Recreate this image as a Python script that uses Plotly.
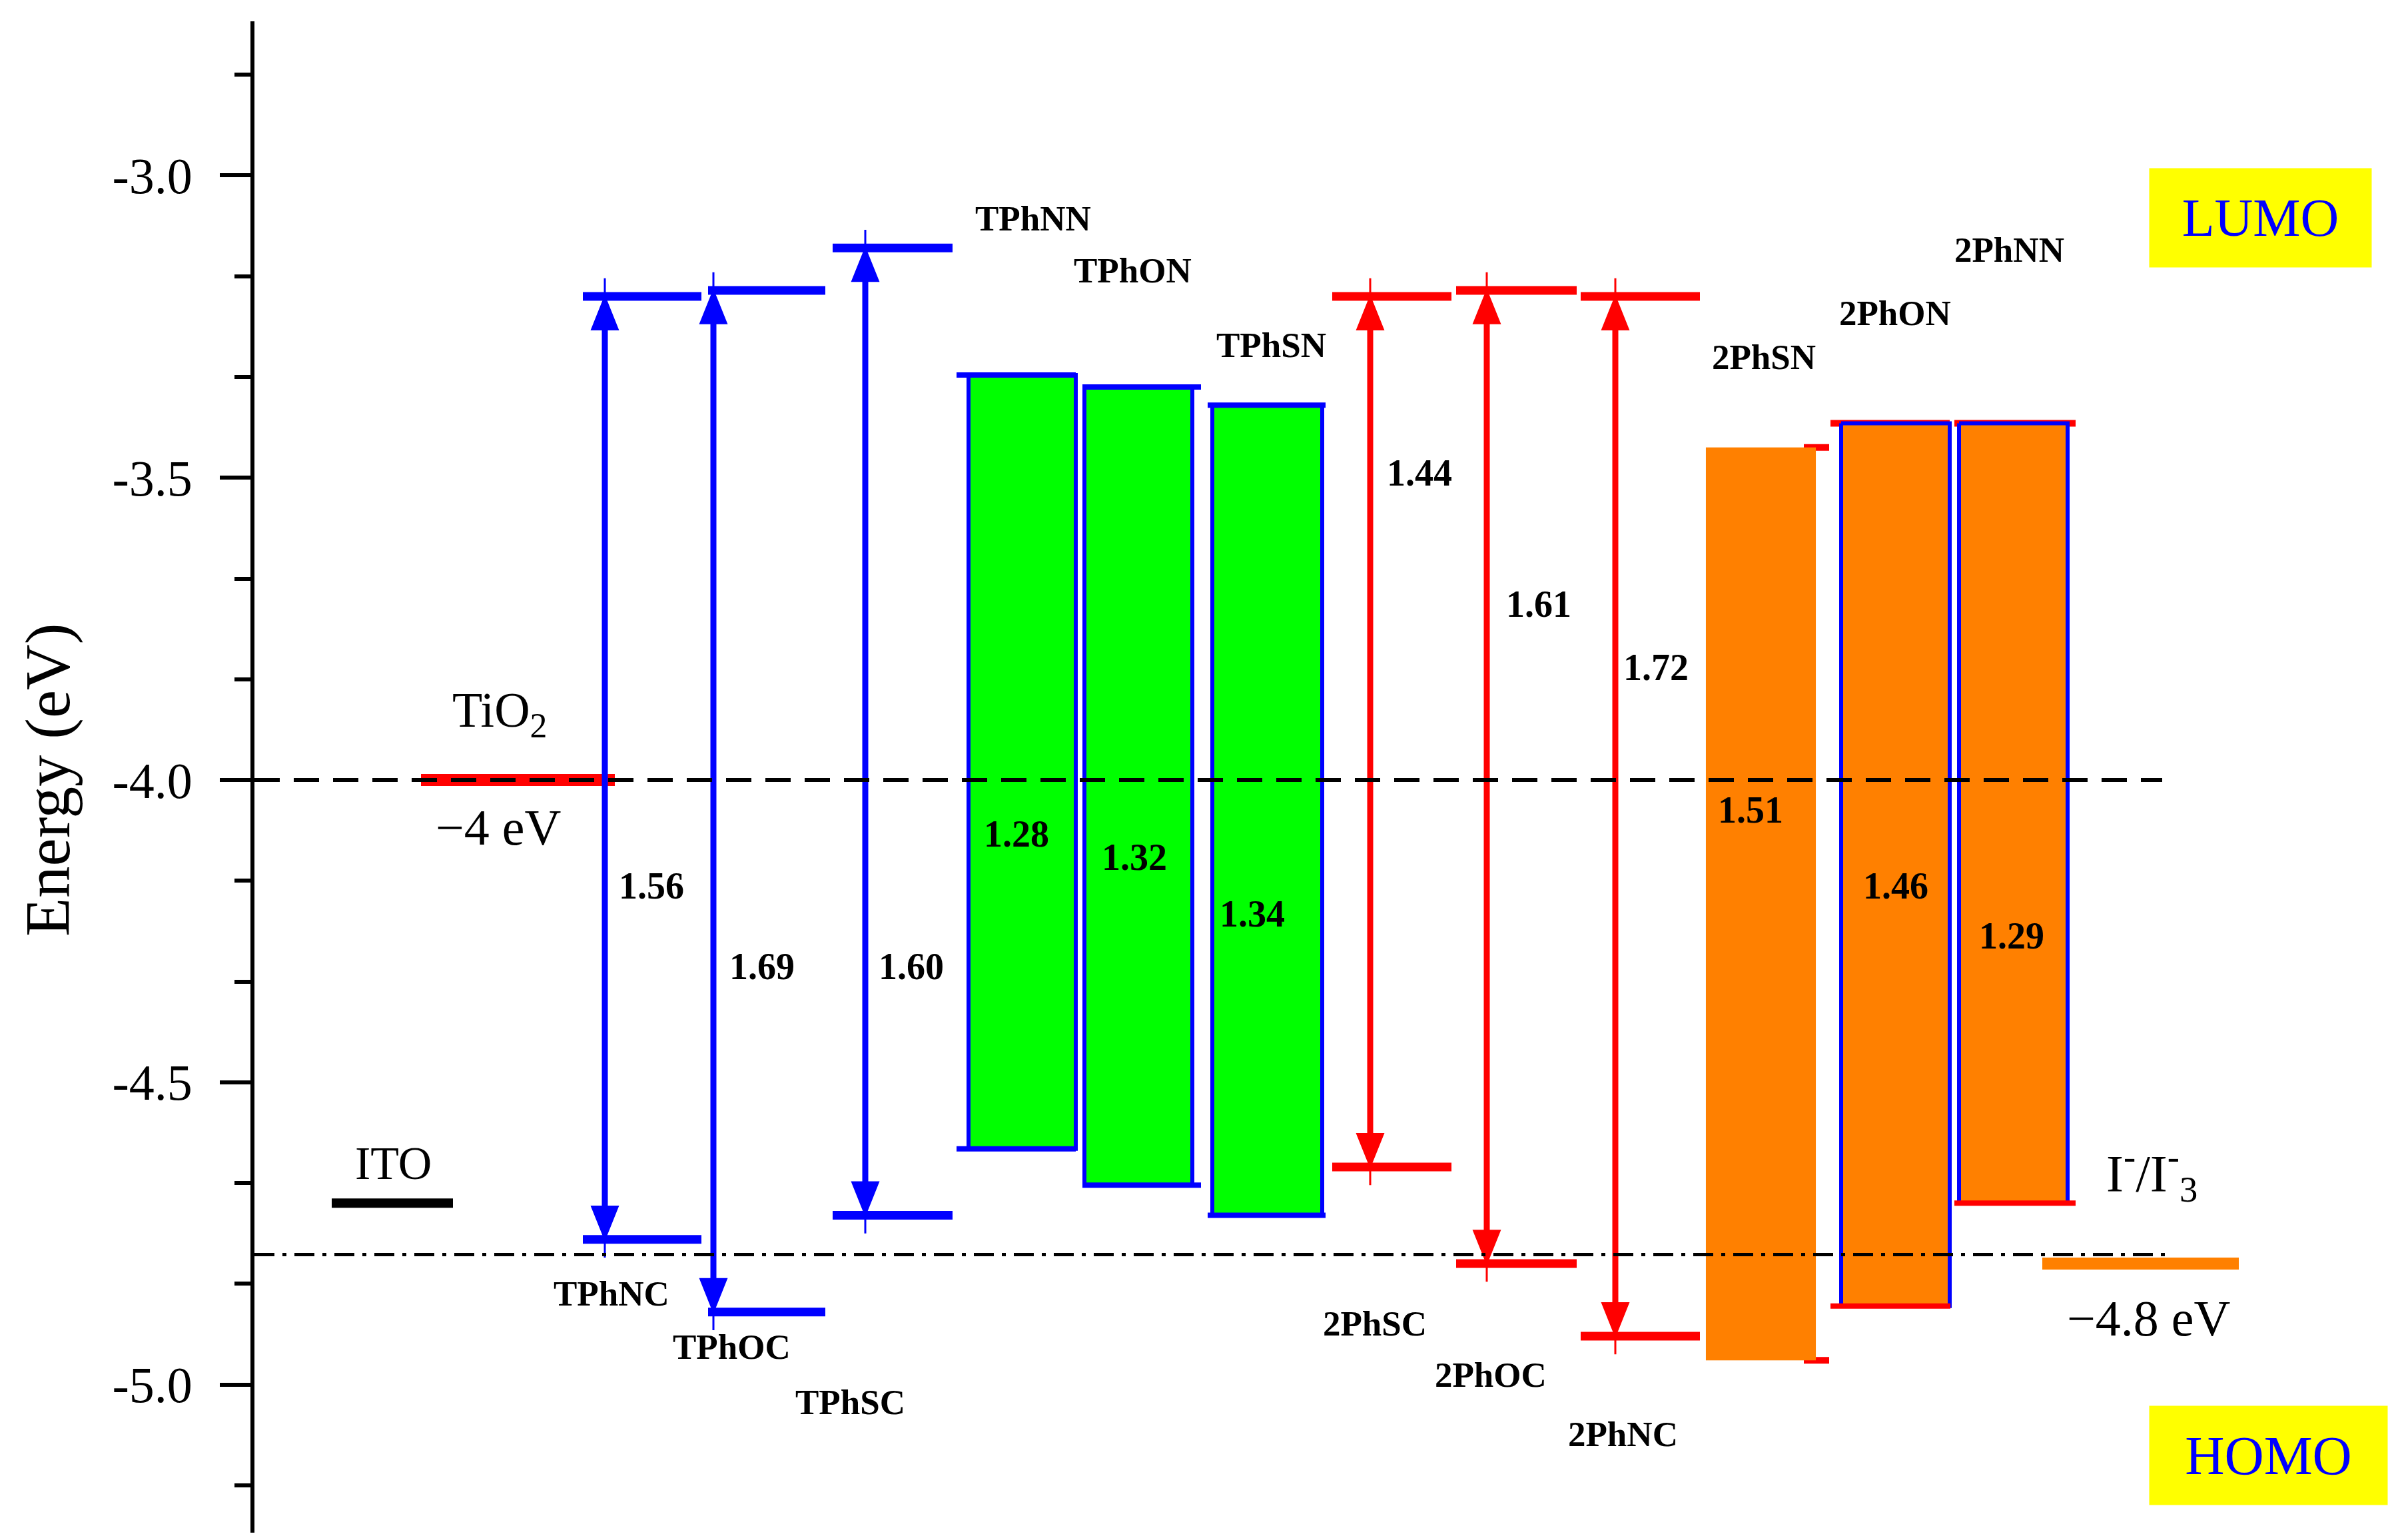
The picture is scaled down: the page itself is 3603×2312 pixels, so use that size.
import plotly.graph_objects as go

# ---------------- data (energies in eV) ----------------
blue_names = ["TPhNC", "TPhOC", "TPhSC"]
blue_lumo = [-3.20, -3.19, -3.12]
blue_homo = [-4.76, -4.88, -4.72]
blue_gap = ["1.56", "1.69", "1.60"]

green_names = ["TPhNN", "TPhON", "TPhSN"]
green_lumo = [-3.33, -3.35, -3.38]
green_homo = [-4.61, -4.67, -4.72]
green_gap = ["1.28", "1.32", "1.34"]

red_names = ["2PhSC", "2PhOC", "2PhNC"]
red_lumo = [-3.20, -3.19, -3.20]
red_homo = [-4.64, -4.80, -4.92]
red_gap = ["1.44", "1.61", "1.72"]

orange_names = ["2PhSN", "2PhON", "2PhNN"]
orange_lumo = [-3.45, -3.41, -3.41]
orange_homo = [-4.96, -4.87, -4.70]
orange_gap = ["1.51", "1.46", "1.29"]

tio2_level = -4.0
ito_level = -4.7
redox_level = -4.8

y_tick_vals = [-3.0, -3.5, -4.0, -4.5, -5.0]
y_tick_text = ["-3.0", "-3.5", "-4.0", "-4.5", "-5.0"]

# ---------------- layout (x in horizontal axis units) ----------------
FONT = "Liberation Serif"
BLUE = "#0000FF"
RED = "#FF0000"
GREEN = "#00FF00"
ORANGE = "#FF8000"

HEAD_LEN = 0.055   # arrow head length (eV)
HEAD_HALF = 20     # arrow head half width (x units)
TIP_EXT = 0.03     # thin tip extension beyond levels (eV)

blue_x0 = [867, 1055, 1242]
blue_x1 = [1045, 1231, 1422]
blue_ax = [900, 1063, 1291]
blue_gap_pos = [(970, -4.175), (1136, -4.309), (1360, -4.309)]
blue_name_pos = [(910, -4.849), (1090, -4.938), (1268, -5.029)]

green_x0 = [1446, 1620, 1812]
green_x1 = [1607, 1782, 1977]
green_lx0 = [1428, 1617, 1805]
green_lx1 = [1607, 1795, 1982]
green_gap_pos = [(1518, -4.089), (1695, -4.128), (1872, -4.221)]
green_name_pos = [(1543, -3.071), (1692, -3.157), (1900, -3.281)]

red_x0 = [1992, 2178, 2365]
red_x1 = [2171, 2359, 2544]
red_ax = [2049, 2224, 2417]
red_gap_pos = [(2123, -3.492), (2302, -3.709), (2478, -3.814)]
red_name_pos = [(2056, -4.899), (2230, -4.984), (2428, -5.082)]

orange_x0 = [2553, 2756, 2933]
orange_x1 = [2718, 2919, 3096]
orange_border = [0, 6, 6]
orange_red_top = [(2700, 2738), (2740, 2919), (2926, 3108)]
orange_red_bot = [(2700, 2738), (2740, 2920), (2926, 3108)]
orange_gap_pos = [(2620, -4.050), (2838, -4.175), (3012, -4.258)]
orange_name_pos = [(2640, -3.300), (2837, -3.228), (3008, -3.123)]

fig = go.Figure()
shapes = []
annotations = []


def hline(x0, x1, y, color, width):
    fig.add_trace(go.Scatter(x=[x0, x1], y=[y, y], mode="lines",
                             line=dict(color=color, width=width),
                             hoverinfo="skip", showlegend=False))


def box(x0, x1, top, bot, fill, border_color, border_w):
    fig.add_trace(go.Scatter(x=[x0, x1, x1, x0, x0], y=[top, top, bot, bot, top],
                             mode="lines", fill="toself", fillcolor=fill,
                             line=dict(color=border_color, width=border_w),
                             hoverinfo="skip", showlegend=False))


def label(x, y, text, size, color="black", bold=False):
    if bold:
        text = "<b>" + text + "</b>"
    annotations.append(dict(x=x, y=y, xref="x", yref="y", text=text, showarrow=False,
                            font=dict(family=FONT, size=size, color=color),
                            xanchor="center", yanchor="middle"))


def arrow(x, top, bot, color):
    # thin tip line extending slightly past both levels
    shapes.append(dict(type="line", xref="x", yref="y", x0=x, x1=x,
                       y0=bot - TIP_EXT, y1=top + TIP_EXT,
                       line=dict(color=color, width=3), layer="above"))
    # shaft
    shapes.append(dict(type="line", xref="x", yref="y", x0=x, x1=x,
                       y0=bot + HEAD_LEN * 0.9, y1=top - HEAD_LEN * 0.9,
                       line=dict(color=color, width=9), layer="above"))
    # heads
    up = f"M {x - HEAD_HALF},{top - HEAD_LEN} L {x + HEAD_HALF},{top - HEAD_LEN} L {x},{top} Z"
    dn = f"M {x - HEAD_HALF},{bot + HEAD_LEN} L {x + HEAD_HALF},{bot + HEAD_LEN} L {x},{bot} Z"
    for p in (up, dn):
        shapes.append(dict(type="path", xref="x", yref="y", path=p,
                           fillcolor=color, line=dict(color=color, width=2), layer="above"))


# TiO2 and ITO
hline(624, 915, tio2_level, RED, 18)
hline(490, 672, ito_level, "black", 14)
label(742, -3.89, "TiO<sub>2</sub>", 74)
label(740, -4.078, "\u22124 eV", 76)
label(582, -4.634, "ITO", 70)

# blue levels with arrows
for i in range(3):
    hline(blue_x0[i], blue_x1[i], blue_lumo[i], BLUE, 13)
    hline(blue_x0[i], blue_x1[i], blue_homo[i], BLUE, 13)
    arrow(blue_ax[i], blue_lumo[i], blue_homo[i], BLUE)
    label(*blue_gap_pos[i], blue_gap[i], 56, bold=True)
    label(*blue_name_pos[i], blue_names[i], 53, bold=True)

# green boxes
for i in range(3):
    box(green_x0[i], green_x1[i], green_lumo[i], green_homo[i], GREEN, BLUE, 6)
    hline(green_lx0[i], green_lx1[i], green_lumo[i], BLUE, 8)
    hline(green_lx0[i], green_lx1[i], green_homo[i], BLUE, 8)
    label(*green_gap_pos[i], green_gap[i], 56, bold=True)
    label(*green_name_pos[i], green_names[i], 53, bold=True)

# red levels with arrows
for i in range(3):
    hline(red_x0[i], red_x1[i], red_lumo[i], RED, 13)
    hline(red_x0[i], red_x1[i], red_homo[i], RED, 13)
    arrow(red_ax[i], red_lumo[i], red_homo[i], RED)
    label(*red_gap_pos[i], red_gap[i], 56, bold=True)
    label(*red_name_pos[i], red_names[i], 53, bold=True)

# orange boxes
for i in range(3):
    hline(orange_red_top[i][0], orange_red_top[i][1], orange_lumo[i], RED, 10)
    if i == 0:
        hline(orange_red_bot[i][0], orange_red_bot[i][1], orange_homo[i], RED, 10)
for i in range(3):
    bc = BLUE if orange_border[i] else ORANGE
    box(orange_x0[i], orange_x1[i], orange_lumo[i], orange_homo[i], ORANGE, bc,
        orange_border[i] if orange_border[i] else 0.1)
    if i > 0:
        hline(orange_red_bot[i][0], orange_red_bot[i][1], orange_homo[i], RED, 8)
    label(*orange_gap_pos[i], orange_gap[i], 56, bold=True)
    label(*orange_name_pos[i], orange_names[i], 53, bold=True)

# redox couple
hline(3058, 3353, redox_level, ORANGE, 18)
label(3222, -4.650, "I<sup>-</sup>/I<sup>-</sup><sub>3</sub>", 78)
label(3218, -4.890, "\u22124.8 eV", 76)

# reference lines
shapes += [
    dict(type="line", xref="x", yref="y", x0=374, x1=3238, y0=tio2_level, y1=tio2_level,
         line=dict(color="black", width=6, dash="38px,21px"), layer="above"),
    dict(type="line", xref="x", yref="y", x0=374, x1=3246, y0=-4.785, y1=-4.785,
         line=dict(color="black", width=5, dash="30px,12px,6px,12px"), layer="above"),
]

# LUMO / HOMO tags
annotations.append(dict(x=3385.5, y=0.870, xref="x", yref="paper", text="LUMO", showarrow=False,
                        font=dict(family=FONT, size=80, color=BLUE), bgcolor="#FFFF00",
                        width=333, height=148, borderpad=0, xanchor="center", yanchor="middle"))
annotations.append(dict(x=3397.5, y=0.0511, xref="x", yref="paper", text="HOMO", showarrow=False,
                        font=dict(family=FONT, size=82, color=BLUE), bgcolor="#FFFF00",
                        width=357, height=148, borderpad=0, xanchor="center", yanchor="middle"))

# axis title
annotations.append(dict(x=-0.096, y=0.498, xref="paper", yref="paper", text="Energy (eV)",
                        textangle=-90, showarrow=False,
                        font=dict(family=FONT, size=95, color="black"),
                        xanchor="center", yanchor="middle"))

fig.update_layout(
    width=3603, height=2312,
    margin=dict(l=374, r=0, t=24, b=19),
    paper_bgcolor="white", plot_bgcolor="white",
    showlegend=False,
    shapes=shapes,
    annotations=annotations,
    xaxis=dict(visible=False, range=[374, 3603], fixedrange=True),
    yaxis=dict(range=[-5.245, -2.745], showgrid=False, zeroline=False,
               showline=True, linecolor="black", linewidth=6,
               ticks="outside", ticklen=46, tickwidth=6, tickcolor="black",
               tickvals=y_tick_vals, ticktext=y_tick_text, ticklabelstandoff=26,
               tickfont=dict(family=FONT, size=76, color="black"),
               minor=dict(ticks="outside", ticklen=24, tickwidth=6, tickcolor="black",
                          tick0=-3.0, dtick=0.5 / 3, showgrid=False)),
)

fig.write_html("out.html")
